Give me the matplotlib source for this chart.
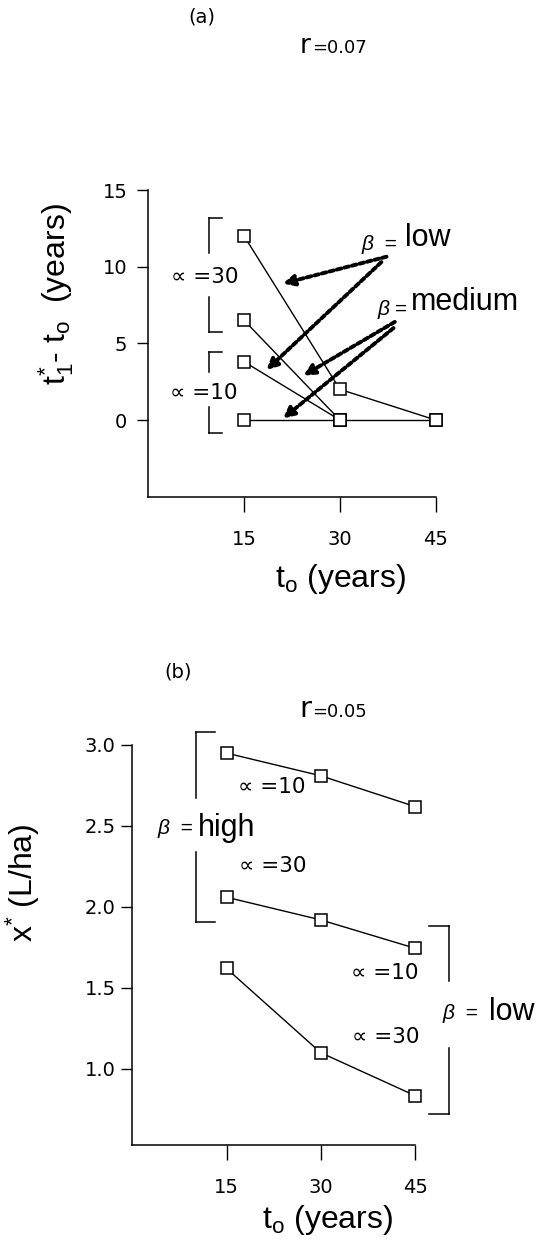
import matplotlib
matplotlib.use('Agg')
import matplotlib.pyplot as plt

plt.rcParams['mathtext.fontset'] = 'custom'
plt.rcParams['mathtext.rm'] = 'Liberation Sans'
plt.rcParams['mathtext.it'] = 'Liberation Sans:italic'

# data
t0 = [15, 30, 45]
t0_short = [15, 30]

# (a) r = 0.07, t1* - t0 (years)
a30_low = [12, 2, 0]
a30_med = [6.5, 0]
a10_low = [3.8, 0]
a10_med = [0, 0, 0]
a_yticks = [0, 5, 10, 15]

# (b) r = 0.05, x* (L/ha)
b_high10 = [2.95, 2.81, 2.62]
b_high30_low10 = [2.06, 1.92, 1.745]
b_low30 = [1.62, 1.10, 0.835]
b_yticks = [1.0, 1.5, 2.0, 2.5, 3.0]
b_ylabels = ['1.0', '1.5', '2.0', '2.5', '3.0']

W, H = 539, 1244
fig = plt.figure(figsize=(W / 100, H / 100), dpi=100)

TXT = ['Liberation Sans', 'DejaVu Sans']
NUM = ['DejaVu Sans']

axa = fig.add_axes([148.3 / W, 1 - 496.7 / H, 287.4 / W, 306.7 / H])
axb = fig.add_axes([132.3 / W, 1 - 1145 / H, 282.7 / W, 400 / H])


def style(ax):
    for s in ['top', 'right']:
        ax.spines[s].set_visible(False)
    for s in ['left', 'bottom']:
        ax.spines[s].set_linewidth(1.1)
    ax.tick_params(axis='x', length=11, width=1, pad=13, labelsize=14)
    ax.tick_params(axis='y', length=8, width=1, pad=7, labelsize=14)
    for lab in ax.get_xticklabels() + ax.get_yticklabels():
        lab.set_family(NUM)


def line(ax, x, y):
    ax.plot(x, y, '-', color='black', lw=1.0, marker='s', ms=9,
            mfc='white', mec='black', mew=1.1, clip_on=False, zorder=3)


def bracket(ax, x, xe, segs):
    # segs: list of (y_from, y_to) for the vertical pieces
    for y1, y2 in segs:
        ax.plot([x, x], [y1, y2], color='black', lw=1.1, clip_on=False)
    ytop = segs[0][0]
    ybot = segs[-1][1]
    ax.plot([x, xe], [ytop, ytop], color='black', lw=1.1, clip_on=False)
    ax.plot([x, xe], [ybot, ybot], color='black', lw=1.1, clip_on=False)


def alpha_label(ax, x, y, val):
    # the alpha sign is set a bit larger than in DejaVu's default
    ax.text(x, y, f'∝ ={val}', fontsize=15.5, family=NUM,
            ha='center', va='center')


def arrow(ax, start, end):
    ax.annotate('', xy=end, xytext=start,
                arrowprops=dict(arrowstyle='-|>', color='black', lw=2.8,
                                linestyle=(0, (1.2, 0.8)), mutation_scale=16,
                                shrinkA=0, shrinkB=0), zorder=4)


# ---------- panel (a)
line(axa, t0, a30_low)
line(axa, t0_short, a30_med)
line(axa, t0_short, a10_low)
line(axa, t0, a10_med)
axa.set_xlim(0, 45)
axa.set_ylim(-5, 15)
axa.set_xticks(t0)
axa.set_xticklabels([str(v) for v in t0])
axa.set_yticks(a_yticks)
axa.set_yticklabels([str(v) for v in a_yticks])
style(axa)

bracket(axa, 9.5, 11.5, [(13.2, 10.9), (8.0, 5.76)])
bracket(axa, 9.5, 11.5, [(4.45, 3.1), (0.87, -0.87)])
alpha_label(axa, 8.9, 9.3, 30)
alpha_label(axa, 8.7, 1.74, 10)

arrow(axa, (37.3, 10.65), (21.1, 8.9))
arrow(axa, (36.5, 10.3), (18.5, 3.26))
arrow(axa, (38.6, 6.4), (24.3, 2.9))
arrow(axa, (38.4, 6.0), (21.1, 0.1))

axa.text(40.2, 11.35, 'low', fontsize=22, family=TXT, ha='left', va='baseline')
axa.text(38.9, 11.1, 'β  =', fontsize=15, family=TXT, style='italic',
         ha='right', va='baseline')
axa.text(41.2, 7.18, 'medium', fontsize=22, family=TXT, ha='left', va='baseline')
axa.text(40.5, 6.85, 'β =', fontsize=15, family=TXT, style='italic',
         ha='right', va='baseline')

fig.text(201.7 / W, 1 - 16.7 / H, '(a)', fontsize=14, family=NUM,
         ha='center', va='center')
fig.text(310 / W, 1 - 53.3 / H, 'r', fontsize=19, family=NUM,
         ha='right', va='baseline')
fig.text(312 / W, 1 - 53.3 / H, '=0.07', fontsize=13, family=NUM,
         ha='left', va='baseline')

fig.text(56 / W, 1 - 294 / H,
         r'$\mathregular{t_1^{*}}$- $\mathregular{t_o}$  (years)',
         fontsize=23, family=TXT, rotation=90, ha='center', va='center')
fig.text(275 / W, 1 - 586.7 / H, r'$\mathregular{t_o}$ (years)',
         fontsize=23, family=TXT, ha='left', va='baseline')

# ---------- panel (b)
line(axb, t0, b_high10)
line(axb, t0, b_high30_low10)
line(axb, t0, b_low30)
axb.set_xlim(0, 45)
axb.set_ylim(0.53, 3.0)
axb.set_xticks(t0)
axb.set_xticklabels([str(v) for v in t0])
axb.set_yticks(b_yticks)
axb.set_yticklabels(b_ylabels)
style(axb)
axb.tick_params(axis='y', pad=4)

bracket(axb, 10.1, 13.2, [(3.08, 2.67), (2.34, 1.91)])
bracket(axb, 50.45, 47.3, [(1.88, 1.54), (1.13, 0.72)])

alpha_label(axb, 22.2, 2.74, 10)
alpha_label(axb, 22.3, 2.25, 30)
alpha_label(axb, 40.2, 1.59, 10)
alpha_label(axb, 40.3, 1.196, 30)

axb.text(10.5, 2.44, 'high', fontsize=22, family=TXT, ha='left', va='baseline')
axb.text(9.7, 2.45, 'β  =', fontsize=15, family=TXT, style='italic',
         ha='right', va='baseline')
axb.text(56.7, 1.30, 'low', fontsize=22, family=TXT, ha='left', va='baseline')
axb.text(55.1, 1.31, 'β  =', fontsize=15, family=TXT, style='italic',
         ha='right', va='baseline')

fig.text(178.3 / W, 1 - 671.7 / H, '(b)', fontsize=14, family=NUM,
         ha='center', va='center')
fig.text(311 / W, 1 - 716.7 / H, 'r', fontsize=21, family=NUM,
         ha='right', va='baseline')
fig.text(312 / W, 1 - 716.7 / H, '=0.05', fontsize=13, family=NUM,
         ha='left', va='baseline')

fig.text(23 / W, 1 - 883 / H, r'$\mathregular{x^{*}}$ (L/ha)',
         fontsize=23, family=TXT, rotation=90, ha='center', va='center')
fig.text(261.7 / W, 1 - 1228.3 / H, r'$\mathregular{t_o}$ (years)',
         fontsize=23, family=TXT, ha='left', va='baseline')

fig.savefig('out.png', dpi=100)
